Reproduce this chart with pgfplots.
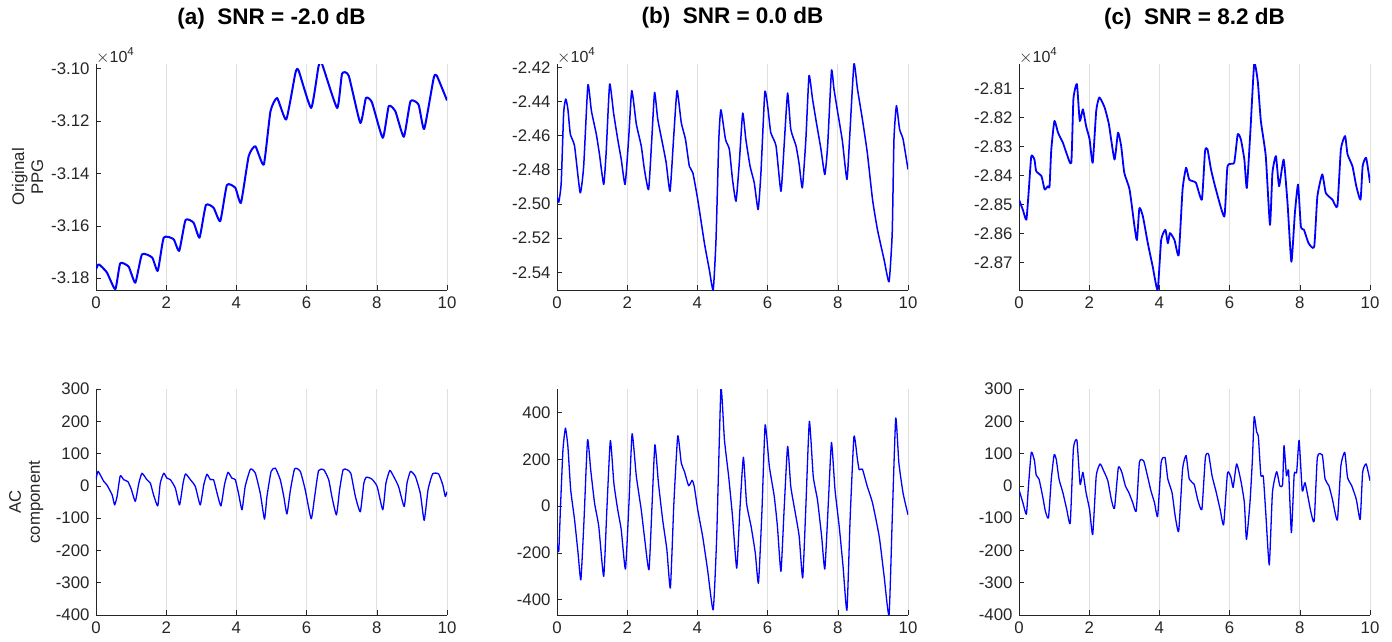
\documentclass[border=0pt]{standalone}
\usepackage{fontspec}
\setmainfont{Liberation Sans}
\usepackage{pgfplots}
\pgfplotsset{compat=1.18}
\definecolor{axcol}{RGB}{38,38,38}
\definecolor{gridcol}{RGB}{223,223,223}
\newcommand{\tickfont}{\fontsize{16.8}{19}\selectfont}

\pgfplotsset{
  ppg/.style={
    width=351pt, height=226pt, scale only axis,
    xmin=0, xmax=10, xtick={0,2,...,10},
    scaled x ticks=false, scaled y ticks=false,
    axis x line*=bottom, axis y line*=left,
    axis line style={draw=axcol, line width=0.6pt, -},
    tick align=inside, major tick length=5pt,
    tick style={draw=axcol, line width=0.6pt},
    xmajorgrids, grid style={draw=gridcol, line width=0.8pt},
    ticklabel style={font=\tickfont, text=axcol},
    xticklabel style={yshift=-3pt},
    yticklabel style={xshift=-3pt},
    /pgf/number format/assume math mode=true,
    title style={font=\bfseries\fontsize{22.5}{25}\selectfont, at={(axis description cs:0.5,1)}, anchor=base, yshift=34pt},
    ylabel style={font=\tickfont, text=axcol, align=center, at={(axis description cs:-0.14,0.5)}, anchor=south},
  },
  ppgline/.style={draw={rgb,255:red,0;green,0;blue,255}, line join=round, smooth, tension=0.3},
}

\begin{document}
\begin{tikzpicture}

% ---------- top row: original PPG ----------
\begin{axis}[ppg, name=ta, at={(96pt,351pt)}, anchor=south west,
  title={(a)\ \ SNR = -2.0 dB}, ylabel={Original\\PPG},
  ymin=-31845, ymax=-30982,
  ytick={-31800,-31600,-31400,-31200,-31000},
  yticklabels={-3.18,-3.16,-3.14,-3.12,-3.10}]
\addplot[ppgline, line width=2pt] coordinates {
(0,-31766) (0.08,-31747) (0.31,-31778) (0.55,-31842) (0.69,-31743) (0.93,-31756)
(1.12,-31817) (1.31,-31709) (1.60,-31721) (1.76,-31772) (1.93,-31645) (2.21,-31651)
(2.37,-31696) (2.55,-31578) (2.78,-31588) (2.95,-31645) (3.13,-31521) (3.35,-31531)
(3.54,-31582) (3.73,-31444) (3.97,-31455) (4.13,-31512) (4.35,-31334) (4.54,-31296)
(4.78,-31366) (4.97,-31163) (5.16,-31112) (5.42,-31194) (5.68,-31017) (5.77,-31006)
(6.13,-31150) (6.34,-30991) (6.44,-30982) (6.87,-31150) (7.01,-31019) (7.20,-31027)
(7.53,-31207) (7.69,-31112) (7.86,-31128) (8.17,-31264) (8.34,-31143) (8.53,-31163)
(8.77,-31260) (8.96,-31124) (9.19,-31137) (9.35,-31230) (9.62,-31036) (9.71,-31027)
(10,-31121)
};
\end{axis}

\begin{axis}[ppg, name=tb, at={(557pt,351pt)}, anchor=south west,
  title={(b)\ \ SNR = 0.0 dB},
  ymin=-25504, ymax=-24181,
  ytick={-25400,-25200,-25000,-24800,-24600,-24400,-24200},
  yticklabels={-2.54,-2.52,-2.50,-2.48,-2.46,-2.44,-2.42}]
\addplot[ppgline, line width=1.5pt] coordinates {
(0,-24955) (0.05,-24990) (0.12,-24877) (0.19,-24465) (0.25,-24386) (0.31,-24445)
(0.38,-24592) (0.50,-24661) (0.66,-24935) (0.76,-24779) (0.88,-24304) (0.98,-24455)
(1.12,-24592) (1.21,-24710) (1.33,-24886) (1.40,-24700) (1.50,-24298) (1.61,-24465)
(1.73,-24622) (1.83,-24739) (1.94,-24886) (2.04,-24622) (2.13,-24337) (2.26,-24533)
(2.40,-24661) (2.49,-24798) (2.61,-24916) (2.70,-24622) (2.78,-24347) (2.87,-24504)
(3.01,-24651) (3.11,-24759) (3.22,-24926) (3.32,-24622) (3.42,-24337) (3.54,-24524)
(3.66,-24622) (3.77,-24779) (3.87,-24818) (4.01,-24975) (4.20,-25230) (4.34,-25386)
(4.45,-25504) (4.53,-25210) (4.61,-24622) (4.67,-24449) (4.80,-24622) (4.91,-24680)
(5.00,-24857) (5.10,-24984) (5.19,-24769) (5.29,-24469) (5.38,-24622) (5.50,-24779)
(5.62,-24877) (5.73,-25033) (5.81,-24818) (5.92,-24347) (6.00,-24425) (6.09,-24582)
(6.24,-24661) (6.38,-24926) (6.47,-24661) (6.57,-24351) (6.66,-24563) (6.81,-24661)
(6.90,-24769) (6.99,-24906) (7.09,-24622) (7.18,-24249) (7.28,-24386) (7.39,-24524)
(7.52,-24680) (7.63,-24828) (7.71,-24661) (7.82,-24220) (7.89,-24327) (7.99,-24455)
(8.13,-24631) (8.26,-24857) (8.34,-24602) (8.46,-24181) (8.56,-24327) (8.70,-24504)
(8.84,-24700) (8.99,-24975) (9.13,-25151) (9.32,-25328) (9.46,-25455) (9.55,-25171)
(9.60,-24622) (9.67,-24425) (9.76,-24563) (9.86,-24622) (10,-24798)
};
\end{axis}

\begin{axis}[ppg, name=tc, at={(1019pt,351pt)}, anchor=south west,
  title={(c)\ \ SNR = 8.2 dB},
  ymin=-28794, ymax=-28016,
  ytick={-28700,-28600,-28500,-28400,-28300,-28200,-28100},
  yticklabels={-2.87,-2.86,-2.85,-2.84,-2.83,-2.82,-2.81}]
\addplot[ppgline, line width=1.8pt] coordinates {
(0,-28483) (0.11,-28518) (0.21,-28552) (0.28,-28448) (0.35,-28333) (0.44,-28345)
(0.49,-28385) (0.64,-28402) (0.73,-28448) (0.82,-28437) (0.87,-28437) (0.92,-28310)
(1.01,-28212) (1.11,-28252) (1.25,-28287) (1.35,-28322) (1.49,-28356) (1.55,-28137)
(1.65,-28085) (1.73,-28212) (1.82,-28172) (1.91,-28229) (2.01,-28275) (2.10,-28356)
(2.20,-28177) (2.29,-28131) (2.44,-28166) (2.56,-28223) (2.72,-28345) (2.82,-28252)
(2.91,-28298) (3.00,-28391) (3.15,-28448) (3.29,-28575) (3.36,-28622) (3.43,-28512)
(3.53,-28541) (3.67,-28633) (3.81,-28714) (3.95,-28794) (4.05,-28622) (4.17,-28587)
(4.24,-28633) (4.30,-28598) (4.43,-28622) (4.55,-28673) (4.66,-28448) (4.76,-28373)
(4.85,-28414) (5.04,-28425) (5.21,-28483) (5.30,-28316) (5.37,-28310) (5.47,-28379)
(5.61,-28448) (5.85,-28541) (5.94,-28368) (6.13,-28356) (6.23,-28258) (6.32,-28275)
(6.42,-28345) (6.49,-28443) (6.59,-28252) (6.70,-28016) (6.80,-28073) (6.89,-28212)
(7.03,-28333) (7.15,-28570) (7.22,-28391) (7.32,-28333) (7.41,-28437) (7.54,-28345)
(7.65,-28495) (7.76,-28697) (7.86,-28529) (7.95,-28431) (8.03,-28575) (8.12,-28587)
(8.25,-28633) (8.41,-28645) (8.50,-28472) (8.64,-28396) (8.74,-28460) (8.93,-28483)
(9.07,-28506) (9.17,-28310) (9.29,-28264) (9.36,-28327) (9.50,-28368) (9.61,-28437)
(9.73,-28483) (9.79,-28368) (9.89,-28339) (10,-28425)
};
\end{axis}

% ---------- bottom row: AC component ----------
\begin{axis}[ppg, at={(96pt,26pt)}, anchor=south west,
  ylabel={AC\\component},
  ymin=-400, ymax=300, ytick={-400,-300,...,300}]
\addplot[ppgline, line width=1.3pt] coordinates {
(0,20) (0.06,45) (0.22,14) (0.31,3) (0.46,-28) (0.53,-59) (0.60,-33) (0.69,31)
(0.79,19) (0.91,13) (1.01,-12) (1.12,-48) (1.22,8) (1.31,39) (1.45,19) (1.55,8)
(1.64,-28) (1.76,-62) (1.83,8) (1.93,39) (2.02,24) (2.12,19) (2.26,-7) (2.38,-59)
(2.48,8) (2.55,37) (2.69,19) (2.83,-2) (2.97,-59) (3.07,3) (3.16,36) (3.26,19)
(3.35,19) (3.45,-23) (3.56,-62) (3.66,3) (3.76,42) (3.87,24) (3.97,19) (4.06,-23)
(4.16,-74) (4.25,-2) (4.40,52) (4.54,39) (4.68,-23) (4.80,-103) (4.87,-33) (4.99,45)
(5.11,55) (5.25,19) (5.35,-33) (5.44,-87) (5.54,-12) (5.66,53) (5.82,45) (5.96,-12)
(6.13,-102) (6.23,-33) (6.34,47) (6.49,50) (6.63,19) (6.72,-33) (6.85,-90) (6.94,-12)
(7.04,50) (7.15,50) (7.26,39) (7.39,-33) (7.53,-80) (7.63,8) (7.70,27) (7.86,21)
(8.01,-2) (8.17,-74) (8.26,8) (8.37,48) (8.48,29) (8.62,-2) (8.78,-64) (8.86,8)
(8.96,45) (9.10,29) (9.24,-23) (9.35,-107) (9.46,-12) (9.59,37) (9.76,37) (9.88,3)
(9.95,-33) (10,-18)
};
\end{axis}

\begin{axis}[ppg, at={(557pt,26pt)}, anchor=south west,
  ymin=-465, ymax=500, ytick={-400,-200,...,400}]
\addplot[ppgline, line width=1.3pt] coordinates {
(0,-159) (0.05,-194) (0.10,-1) (0.17,241) (0.24,333) (0.31,255) (0.39,70) (0.50,-58)
(0.60,-201) (0.68,-315) (0.77,-58) (0.87,283) (0.96,155) (1.07,13) (1.19,-87) (1.33,-300)
(1.42,-16) (1.52,280) (1.62,98) (1.73,-16) (1.83,-101) (1.95,-269) (2.05,13) (2.14,309)
(2.26,127) (2.40,-16) (2.49,-130) (2.62,-272) (2.71,13) (2.79,262) (2.89,98) (3.01,-58)
(3.13,-186) (3.23,-350) (3.33,13) (3.44,300) (3.54,184) (3.63,148) (3.75,87) (3.85,110)
(3.91,84) (4.01,-16) (4.15,-130) (4.29,-272) (4.45,-443) (4.55,-130) (4.67,500) (4.77,283)
(4.89,127) (5.00,-44) (5.12,-265) (5.21,-16) (5.31,209) (5.40,13) (5.53,-87) (5.65,-201)
(5.74,-329) (5.84,-16) (5.93,347) (6.05,169) (6.19,41) (6.28,-87) (6.38,-279) (6.47,-16)
(6.57,255) (6.66,84) (6.79,-30) (6.90,-130) (7.00,-307) (7.09,-1) (7.19,362) (7.30,127)
(7.42,27) (7.54,-130) (7.63,-269) (7.73,13) (7.82,272) (7.92,70) (8.04,-87) (8.15,-258)
(8.26,-445) (8.35,-58) (8.46,297) (8.56,198) (8.61,155) (8.70,158) (8.84,84) (8.99,13)
(9.18,-130) (9.32,-300) (9.46,-465) (9.55,-58) (9.65,376) (9.74,184) (9.86,55) (10,-37)
};
\end{axis}

\begin{axis}[ppg, at={(1019pt,26pt)}, anchor=south west,
  ymin=-400, ymax=300, ytick={-400,-300,...,300}]
\addplot[ppgline, line width=1.3pt] coordinates {
(0,-12) (0.11,-52) (0.21,-88) (0.27,0) (0.35,104) (0.44,78) (0.49,33) (0.57,21)
(0.68,-36) (0.75,-78) (0.84,-99) (0.92,21) (1.00,96) (1.06,83) (1.14,21) (1.25,-21)
(1.36,-73) (1.46,-114) (1.55,115) (1.65,141) (1.74,5) (1.82,42) (1.91,-21) (2.01,-73)
(2.10,-151) (2.20,31) (2.31,68) (2.41,47) (2.53,16) (2.63,-42) (2.72,-70) (2.83,57)
(2.93,42) (3.03,0) (3.13,-21) (3.24,-52) (3.34,-78) (3.43,73) (3.55,78) (3.67,26)
(3.76,-16) (3.86,-52) (3.95,-94) (4.05,73) (4.16,88) (4.24,21) (4.36,-21) (4.45,-94)
(4.55,-140) (4.66,52) (4.76,94) (4.85,21) (4.99,5) (5.09,-42) (5.21,-73) (5.31,88)
(5.40,99) (5.50,31) (5.61,-16) (5.73,-73) (5.83,-120) (5.94,40) (6.04,26) (6.10,-5)
(6.20,68) (6.32,16) (6.42,-52) (6.48,-166) (6.58,-52) (6.65,83) (6.70,214) (6.77,167)
(6.82,151) (6.89,33) (6.96,29) (7.03,-83) (7.13,-245) (7.22,-21) (7.34,44) (7.43,0)
(7.51,5) (7.55,125) (7.62,31) (7.68,47) (7.76,-145) (7.84,36) (7.91,42) (7.98,141)
(8.07,-16) (8.15,10) (8.31,-78) (8.41,-109) (8.50,88) (8.64,96) (8.72,21) (8.83,0)
(8.93,-42) (9.07,-106) (9.17,62) (9.28,104) (9.36,26) (9.48,0) (9.61,-42) (9.72,-104)
(9.79,42) (9.89,68) (10,16)
};
\end{axis}

% exponent labels above the top-row axes
\node[anchor=base west, inner sep=0pt, text=axcol, font=\fontsize{16}{18}\selectfont] at ([yshift=1.5pt]ta.north west) {$\times$10\raisebox{0.45em}{\fontsize{11.5}{12}\selectfont 4}};
\node[anchor=base west, inner sep=0pt, text=axcol, font=\fontsize{16}{18}\selectfont] at ([yshift=1.5pt]tb.north west) {$\times$10\raisebox{0.45em}{\fontsize{11.5}{12}\selectfont 4}};
\node[anchor=base west, inner sep=0pt, text=axcol, font=\fontsize{16}{18}\selectfont] at ([yshift=1.5pt]tc.north west) {$\times$10\raisebox{0.45em}{\fontsize{11.5}{12}\selectfont 4}};

\pgfresetboundingbox
\path[use as bounding box] (0,0) rectangle (1392pt,641pt);
\end{tikzpicture}
\end{document}
